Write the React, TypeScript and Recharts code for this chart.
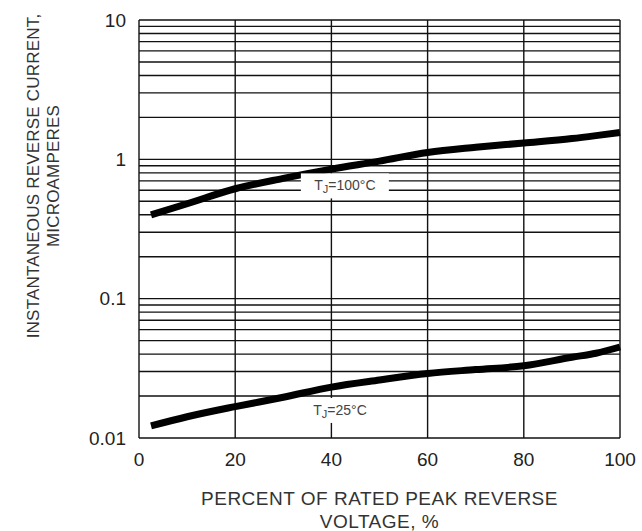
import { Line, LineChart, ReferenceDot, ReferenceLine, XAxis, YAxis } from "recharts"

const percent = [2.5, 10, 20, 30, 40, 50, 60, 70, 80, 90, 95, 100]
const tj100 = [0.4, 0.48, 0.615, 0.73, 0.85, 0.97, 1.12, 1.22, 1.31, 1.41, 1.48, 1.56]
const tj25 = [0.0122, 0.0142, 0.0168, 0.0196, 0.0232, 0.0261, 0.029, 0.031, 0.033, 0.038, 0.0406, 0.045]

const xTicks = [0, 20, 40, 60, 80, 100]
const yTicks = [0.01, 0.1, 1, 10]
const yGrid = [
  0.01, 0.02, 0.03, 0.04, 0.05, 0.06, 0.07, 0.08, 0.09,
  0.1, 0.2, 0.3, 0.4, 0.5, 0.6, 0.7, 0.8, 0.9,
  1, 2, 3, 4, 5, 6, 7, 8, 9, 10,
]

const data = percent.map((p, i) => ({ p, hot: tj100[i], cold: tj25[i] }))

const font = '"Liberation Sans", Arial, sans-serif'
const ink = "#111"

const makeTag = (temp: string, boxW: number) => (props: any) => {
  const vb = props.viewBox
  const cx = vb.x + vb.width / 2
  const cy = vb.y + vb.height / 2
  return (
    <g>
      <rect x={cx - boxW / 2} y={cy - 12} width={boxW} height={25} fill="#fff" />
      <text
        x={cx}
        y={cy + 5}
        textAnchor="middle"
        fontSize={14}
        fontFamily={font}
        fill="#444"
      >
        <tspan>T</tspan>
        <tspan fontSize={11} dy={3}>J</tspan>
        <tspan dy={-3}>={temp}°C</tspan>
      </text>
    </g>
  )
}

const XTitle = (props: any) => {
  const vb = props.viewBox
  const cx = vb.x + vb.width / 2
  return (
    <text textAnchor="middle" fontSize={19} letterSpacing={0.5} fontFamily={font} fill="#333">
      <tspan x={cx} y={505}>PERCENT OF RATED PEAK REVERSE</tspan>
      <tspan x={cx} y={528}>VOLTAGE, %</tspan>
    </text>
  )
}

const YTitle = () => (
  <text
    textAnchor="middle"
    fontSize={17}
    letterSpacing={0.2}
    fontFamily={font}
    fill="#333"
    transform="translate(0 176) rotate(-90)"
  >
    <tspan x={0} y={39}>INSTANTANEOUS REVERSE CURRENT,</tspan>
    <tspan x={0} y={59}>MICROAMPERES</tspan>
  </text>
)

export default function App() {
  return (
    <div style={{ width: 642, height: 531, background: "#fff" }}>
      <style>{"body{margin:0}"}</style>
      <LineChart
        width={642}
        height={531}
        data={data}
        margin={{ top: 20, right: 22, left: 0, bottom: 0 }}
      >
        <XAxis
          dataKey="p"
          type="number"
          domain={[0, 100]}
          ticks={xTicks}
          axisLine={false}
          tickLine={false}
          tickSize={0}
          tickMargin={15}
          height={93}
          tick={{ fontSize: 19, fontFamily: font, fill: "#222" }}
          label={{ content: XTitle }}
        />
        <YAxis
          type="number"
          scale="log"
          domain={[0.01, 10]}
          ticks={yTicks}
          allowDataOverflow
          axisLine={false}
          tickLine={false}
          tickSize={0}
          tickMargin={13}
          width={139}
          tickFormatter={(v) => String(v)}
          tick={{ fontSize: 19, fontFamily: font, fill: "#222" }}
          label={{ content: YTitle }}
        />
        {yGrid.map((v) => (
          <ReferenceLine key={"h" + v} y={v} stroke={ink} strokeWidth={1.4} ifOverflow="extendDomain" />
        ))}
        {xTicks.map((v) => (
          <ReferenceLine key={"v" + v} x={v} stroke={ink} strokeWidth={1.4} />
        ))}
        <ReferenceDot x={42.8} y={0.65} r={0} fill="none" stroke="none" label={{ content: makeTag("100", 88) }} />
        <ReferenceDot x={41.8} y={0.0159} r={0} fill="none" stroke="none" label={{ content: makeTag("25", 82) }} />
        <Line
          type="monotone"
          dataKey="hot"
          stroke="#000"
          strokeWidth={7}
          dot={false}
          isAnimationActive={false}
        />
        <Line
          type="monotone"
          dataKey="cold"
          stroke="#000"
          strokeWidth={7}
          dot={false}
          isAnimationActive={false}
        />
      </LineChart>
    </div>
  )
}
